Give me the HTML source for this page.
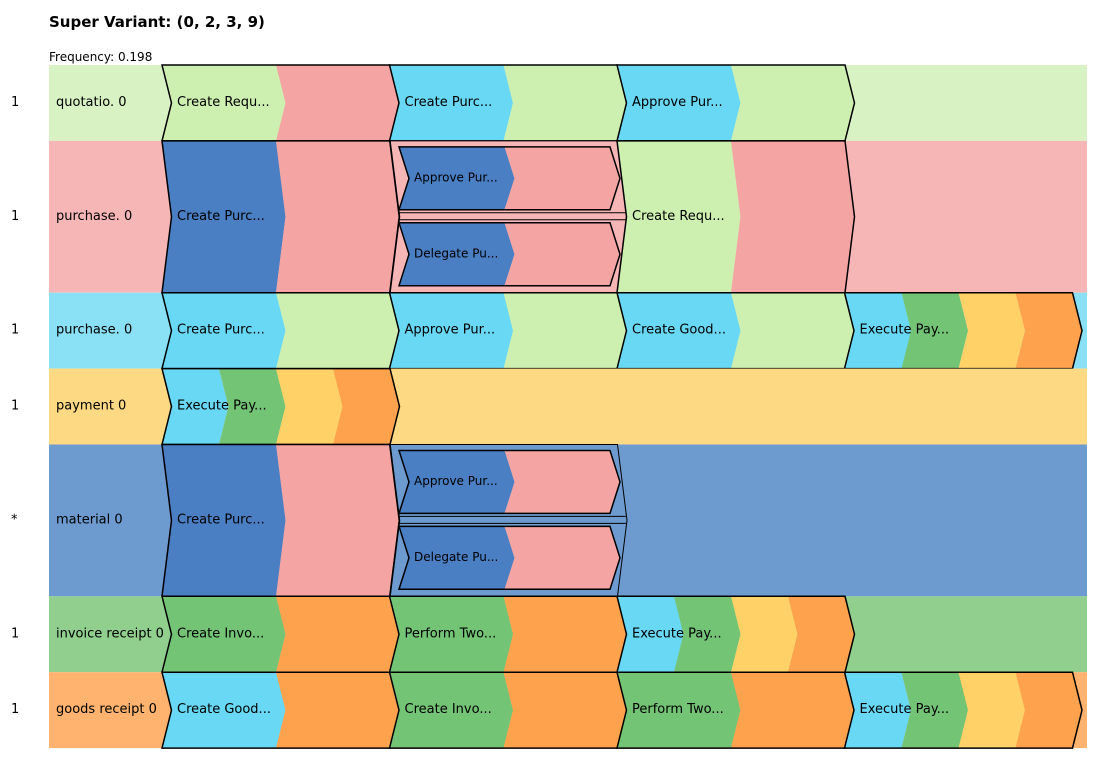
<!DOCTYPE html>
<html><head><meta charset="utf-8"><style>
body{margin:0;background:#fff;font-family:"Liberation Sans","DejaVu Sans",sans-serif}
svg text{font-family:"DejaVu Sans","Liberation Sans",sans-serif}
</style></head><body>
<svg id="chart" width="1103" height="759" xmlns="http://www.w3.org/2000/svg">
<text x="49" y="27" font-size="15" font-weight="bold" style="font-family:'DejaVu Sans',sans-serif">Super Variant: (0, 2, 3, 9)</text>
<text x="49" y="61" font-size="12">Frequency: 0.198</text>
</svg>
<script>
const C={lg:'#cdf0b0',pk:'#f4a5a3',cy:'#69d8f4',bl:'#4a7fc4',gr:'#74c476',ye:'#ffd166',or:'#ffa24d'};
const rowNames=['quotatio. 0','purchase. 0','purchase. 0','payment 0','material 0','invoice receipt 0','goods receipt 0'];
const rowCounts=['1','1','1','1','*','1','1'];
const rowHeights=[1,2,1,1,2,1,1];
const rowBg=['#d8f2c4','#f7b6b6','#8ae0f4','#fdd984','#6d9bcf','#90cf8d','#ffb36e'];
const rowCells=[
 [['Create Requ...',['lg','pk']],['Create Purc...',['cy','lg']],['Approve Pur...',['cy','lg']],null],
 [['Create Purc...',['bl','pk']],{nested:[['Approve Pur...',['bl','pk']],['Delegate Pu...',['bl','pk']]]},['Create Requ...',['lg','pk']],null],
 [['Create Purc...',['cy','lg']],['Approve Pur...',['cy','lg']],['Create Good...',['cy','lg']],['Execute Pay...',['cy','gr','ye','or']]],
 [['Execute Pay...',['cy','gr','ye','or']],null,null,null],
 [['Create Purc...',['bl','pk']],{nested:[['Approve Pur...',['bl','pk']],['Delegate Pu...',['bl','pk']]]},null,null],
 [['Create Invo...',['gr','or']],['Perform Two...',['gr','or']],['Execute Pay...',['cy','gr','ye','or']],null],
 [['Create Good...',['cy','or']],['Create Invo...',['gr','or']],['Perform Two...',['gr','or']],['Execute Pay...',['cy','gr','ye','or']]]
];
const svg=document.getElementById('chart');const NS='http://www.w3.org/2000/svg';
function el(t,a,p){const e=document.createElementNS(NS,t);for(const k in a)e.setAttribute(k,a[k]);(p||svg).appendChild(e);return e;}
const top0=65,unit=75.9,left=49,right=1087,colX0=162,colStep=227.5,W=228,T=9.5;
function chevron(g,x0,y0,y1,w,t,colors,label,fs,name){
 const m=(y0+y1)/2,n=colors.length;
 colors.forEach((c,i)=>{const a=x0+w*i/n,b=x0+w*(i+1)/n;
  const p=el('polygon',{points:`${a},${y0} ${b},${y0} ${b+t},${m} ${b},${y1} ${a},${y1} ${a+t},${m}`,fill:C[c]},g);
  });
 const o=el('polygon',{points:`${x0},${y0} ${x0+w},${y0} ${x0+w+t},${m} ${x0+w},${y1} ${x0},${y1} ${x0+t},${m}`,fill:'none',stroke:'#000','stroke-width':1.5},g);
 
 const tx=el('text',{x:x0+15,y:m+3,'font-size':fs},g);tx.textContent=label;
 
}
let y=top0;
rowNames.forEach((nm,r)=>{
 const h=rowHeights[r]*unit,y0=y,y1=y+h;y=y1;
 const g=el('g',{});
 const bg=el('rect',{x:left,y:y0,width:right-left,height:h,fill:rowBg[r]},g);
 
 const cnt=el('text',{x:11,y:(y0+y1)/2+3,'font-size':13},g);cnt.textContent=rowCounts[r];
 
 const lb=el('text',{x:56,y:(y0+y1)/2+3,'font-size':13},g);lb.textContent=nm;
 
 rowCells[r].forEach((cell,ci)=>{
  if(!cell)return;const x0=colX0+ci*colStep;
  if(cell.nested){
   const m=(y0+y1)/2;
   const o=el('polygon',{points:`${x0},${y0} ${x0+W},${y0} ${x0+W+T},${m} ${x0+W},${y1} ${x0},${y1} ${x0+T},${m}`,fill:'none',stroke:'#000','stroke-width':1},g);
   
   const l1=el('line',{x1:x0+T,x2:x0+W+T,y1:m-4,y2:m-4,stroke:'#000','stroke-width':1},g);
   
   const l2=el('line',{x1:x0+T,x2:x0+W+T,y1:m+3,y2:m+3,stroke:'#000','stroke-width':1},g);
   
   const n=cell.nested.length,sub=h/n;
   cell.nested.forEach((c,k)=>{chevron(g,x0+T,y0+k*sub+6,y0+(k+1)*sub-7,211,10,c[1],c[0],12,'nested-activity');});
  } else chevron(g,x0,y0,y1,W,T,cell[1],cell[0],13,'activity');
 });
});
</script>
</body></html>
